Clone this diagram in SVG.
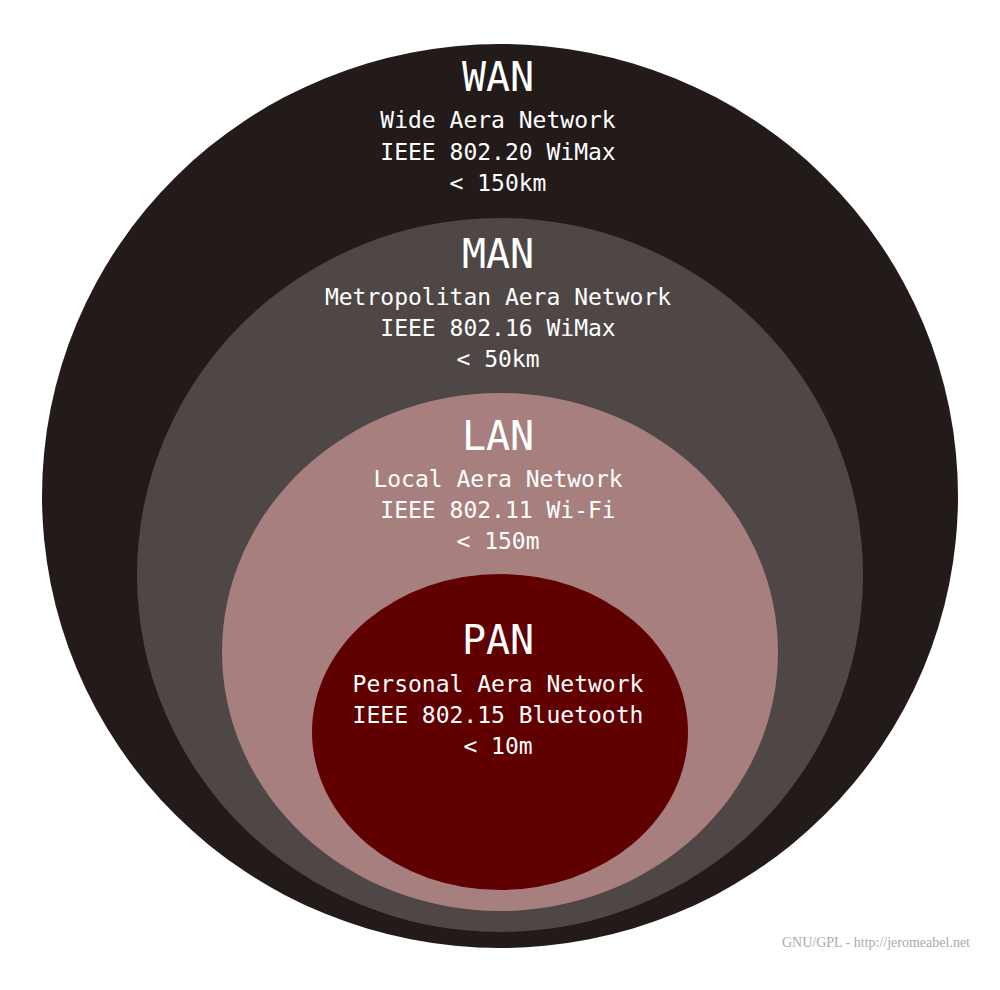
<svg xmlns="http://www.w3.org/2000/svg" width="1000" height="990" viewBox="0 0 1000 990">
<style>
.t{font-family:"DejaVu Sans Mono",monospace;fill:#fff;text-anchor:middle}
.h{font-size:40px}.s{font-size:23px}
</style>
<rect width="1000" height="990" fill="#fff"/>
<g id="wan"><ellipse cx="500" cy="496" rx="458" ry="452" fill="#231a1a"/>
<text class="t h" x="498" y="91">WAN</text>
<text class="t s" x="498" y="128">Wide Aera Network</text>
<text class="t s" x="498" y="160">IEEE 802.20 WiMax</text>
<text class="t s" x="498" y="191">&lt; 150km</text></g>
<g id="man"><ellipse cx="500" cy="575" rx="363" ry="357" fill="#4f4745"/>
<text class="t h" x="498" y="268">MAN</text>
<text class="t s" x="498" y="305">Metropolitan Aera Network</text>
<text class="t s" x="498" y="336">IEEE 802.16 WiMax</text>
<text class="t s" x="498" y="367">&lt; 50km</text></g>
<g id="lan"><ellipse cx="500" cy="652" rx="278" ry="259" fill="#a87f7f"/>
<text class="t h" x="498" y="450">LAN</text>
<text class="t s" x="498" y="487">Local Aera Network</text>
<text class="t s" x="498" y="518">IEEE 802.11 Wi-Fi</text>
<text class="t s" x="498" y="549">&lt; 150m</text></g>
<g id="pan"><ellipse cx="500" cy="732" rx="188" ry="158" fill="#600000"/>
<text class="t h" x="498" y="654">PAN</text>
<text class="t s" x="498" y="692">Personal Aera Network</text>
<text class="t s" x="498" y="723">IEEE 802.15 Bluetooth</text>
<text class="t s" x="498" y="754">&lt; 10m</text></g>
<text x="970" y="947" font-family="Liberation Serif,serif" font-size="14" fill="#aaa" text-anchor="end">GNU/GPL - http://jeromeabel.net</text>
</svg>
